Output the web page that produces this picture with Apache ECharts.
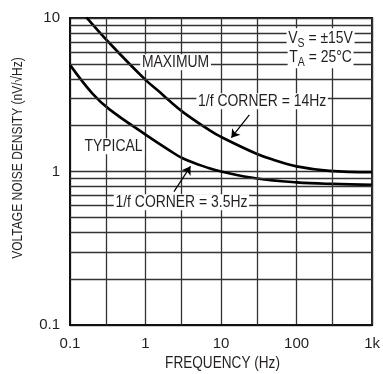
<!DOCTYPE html>
<html>
<head>
<meta charset="utf-8">
<script src="https://cdn.jsdelivr.net/npm/echarts@6/dist/echarts.min.js"></script>
<style>
html,body{margin:0;padding:0;background:#fff;}
#chart{width:383px;height:374px;}
</style>
</head>
<body>
<div id="chart"></div>
<script>
// ---- data ----
const freqMax  = [0.165, 0.33, 1.0, 1.5, 2.0, 3.2, 7.0, 10, 30, 50, 100, 270, 1000];
const noiseMax = [10.1, 6.9, 3.95, 3.33, 2.93, 2.42, 1.86, 1.68, 1.30, 1.19, 1.08, 1.01, 0.99];

const freqTyp  = [0.1, 0.2, 0.33, 1.0, 2.0, 3.2, 7.0, 10, 30, 100, 300, 1000];
const noiseTyp = [4.95, 3.2, 2.55, 1.74, 1.39, 1.21, 1.05, 1.0, 0.9, 0.85, 0.83, 0.82];

const xTickLabels = {'0.1': '0.1', '1': '1', '10': '10', '100': '100', '1000': '1k'};
const yTickLabels = {'0.1': '0.1', '1': '1', '10': '10'};

const xMinorGrid = [0.3, 3, 30, 300];
const yMinorGrid = [0.2, 0.3, 0.4, 0.5, 0.6, 0.7, 0.8, 0.9, 2, 3, 4, 5, 6, 7, 8, 9];

// annotation texts and their anchor points (data coordinates)
const notes = [
  {text: 'MAXIMUM', at: [2.5, 5.15]},
  {text: 'TYPICAL', at: [0.377, 1.46]},
  {text: '1/f CORNER = 14Hz', at: [35, 2.87]},
  {text: '1/f CORNER = 3.5Hz', at: [2.99, 0.63]},
  {text: '{a|V}{s|S}{a| = ±15V}', at: [208, 7.33]},
  {text: '{a|T}{s|A}{a| = 25°C}', at: [208, 5.5]}
];
const arrows = [
  {from: [23.7, 2.34], to: [13.7, 1.66]},
  {from: [2.38, 0.74], to: [3.94, 1.08]}
];

const FONT = "'Liberation Sans', Arial, sans-serif";
const TXT = '#231f20';

function key(v) { return String(Number(v.toPrecision(6))); }
function pairs(xs, ys) { return xs.map((x, i) => [x, ys[i]]); }

const chart = echarts.init(document.getElementById('chart'), null, {renderer: 'canvas'});

const gridLineStyle = {color: '#333', width: 1.3, type: 'solid'};

const option = {
  backgroundColor: '#fff',
  animation: false,
  grid: {left: 70, right: 8, top: 18, bottom: 49, show: true, borderColor: '#111', borderWidth: 2},
  xAxis: {
    type: 'log', logBase: 10, min: 0.1, max: 1000,
    axisLine: {show: true, lineStyle: {color: '#111', width: 2}},
    axisTick: {show: false},
    axisLabel: {color: TXT, fontFamily: FONT, fontSize: 15, margin: 11,
      formatter: v => xTickLabels[key(v)] || ''},
    splitLine: {show: true, lineStyle: gridLineStyle}
  },
  yAxis: {
    type: 'log', logBase: 10, min: 0.1, max: 10,
    axisLine: {show: true, lineStyle: {color: '#111', width: 2}},
    axisTick: {show: false},
    axisLabel: {color: TXT, fontFamily: FONT, fontSize: 15, margin: 10,
      formatter: v => yTickLabels[key(v)] || ''},
    splitLine: {show: true, lineStyle: gridLineStyle}
  },
  series: [
    {
      name: 'grid', type: 'line', data: [], z: 1, silent: true,
      markLine: {
        silent: true, symbol: ['none', 'none'], label: {show: false},
        lineStyle: gridLineStyle, animation: false,
        data: xMinorGrid.map(v => ({xAxis: v})).concat(yMinorGrid.map(v => ({yAxis: v})))
      }
    },
    {
      name: 'MAXIMUM', type: 'line', data: pairs(freqMax, noiseMax), smooth: 0.4,
      showSymbol: false, z: 3, clip: true,
      lineStyle: {color: '#000', width: 2.6}
    },
    {
      name: 'TYPICAL', type: 'line', data: pairs(freqTyp, noiseTyp), smooth: 0.4,
      showSymbol: false, z: 3, clip: true,
      lineStyle: {color: '#000', width: 2.6}
    },
    {
      name: 'arrows', type: 'line', data: [], z: 4, silent: true,
      markLine: {
        silent: true, symbol: ['none', 'arrow'], symbolSize: 8,
        label: {show: false}, lineStyle: {color: '#000', width: 1.2, type: 'solid'},
        data: arrows.map(a => [{coord: a.from}, {coord: a.to}])
      }
    }
  ]
};

chart.setOption(option);

// text placed at data coordinates, slightly condensed like the original typeface
const graphics = notes.map(n => {
  const p = chart.convertToPixel({gridIndex: 0}, n.at);
  return {
    type: 'text', x: p[0], y: p[1], scaleX: 0.87, z: 20, silent: true,
    style: {
      text: n.text, fill: TXT, font: '16px ' + FONT, align: 'center', verticalAlign: 'middle',
      backgroundColor: '#fff', padding: [0, 2],
      rich: {
        a: {fill: TXT, font: '16px ' + FONT},
        s: {fill: TXT, font: '12px ' + FONT, verticalAlign: 'bottom', padding: [9, 0, 0, 0]}
      }
    }
  };
});
graphics.push({
  type: 'text', x: 222.5, y: 364, scaleX: 0.85, z: 20, silent: true,
  style: {text: 'FREQUENCY (Hz)', fill: TXT, font: '16px ' + FONT, align: 'center', verticalAlign: 'middle'}
});
graphics.push({
  type: 'text', x: 18, y: 158, rotation: Math.PI / 2, scaleX: 0.8, z: 20, silent: true,
  style: {text: 'VOLTAGE NOISE DENSITY (nV/√Hz)', fill: TXT, font: '15px ' + FONT,
    align: 'center', verticalAlign: 'middle'}
});
chart.setOption({graphic: graphics});
</script>
</body>
</html>
